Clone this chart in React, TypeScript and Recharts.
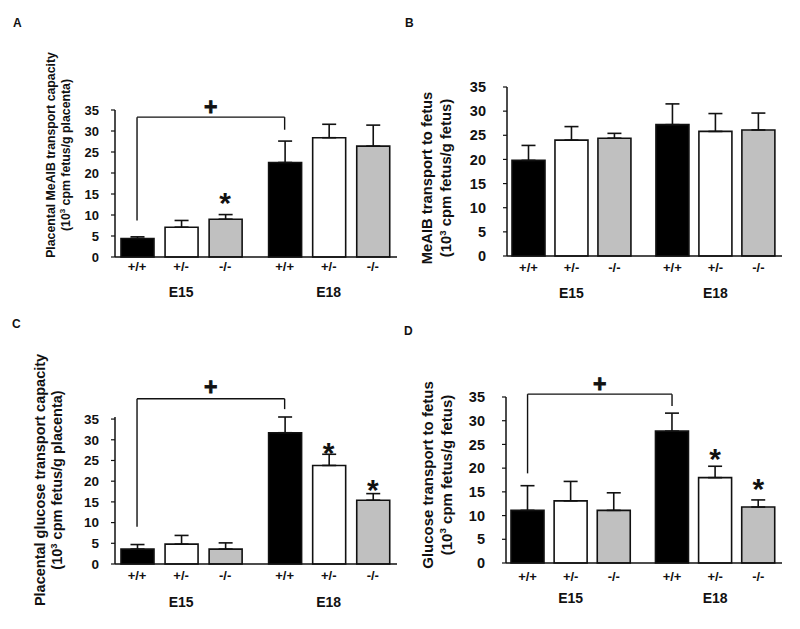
import React from "react"
import {
  BarChart,
  Bar,
  XAxis,
  YAxis,
  ErrorBar,
  Cell,
  ReferenceLine,
  ReferenceDot,
  Label,
} from "recharts"

const genotypes = ["+/+", "+/-", "-/-", "+/+", "+/-", "-/-"]
const ages = ["E15", "E18"]
const yTicks = [0, 5, 10, 15, 20, 25, 30, 35]
const barColors = ["#000000", "#ffffff", "#c0c0c0", "#000000", "#ffffff", "#c0c0c0"]

// A: placental MeAIB transport capacity
const meaibPlacentaMean = [4.4, 7.1, 9.0, 22.5, 28.4, 26.4]
const meaibPlacentaSem = [0.4, 1.6, 1.1, 5.1, 3.2, 5.0]
const meaibPlacentaStars = [null, null, 14.3, null, null, null]
const meaibPlacentaBracket = { top: 33.3, leftLow: 8.7, rightLow: 30.3, plus: 35.8 }

// B: MeAIB transport to fetus
const meaibFetusMean = [19.8, 24.0, 24.4, 27.2, 25.8, 26.1]
const meaibFetusSem = [3.1, 2.8, 1.0, 4.3, 3.7, 3.5]
const meaibFetusStars = [null, null, null, null, null, null]

// C: placental glucose transport capacity
const glucosePlacentaMean = [3.6, 4.8, 3.6, 31.7, 23.8, 15.4]
const glucosePlacentaSem = [1.1, 2.1, 1.5, 3.8, 2.7, 1.6]
const glucosePlacentaStars = [null, null, null, null, 28.3, 19.5]
const glucosePlacentaBracket = { top: 39.9, leftLow: 9.0, rightLow: 37.4, plus: 42.7 }

// D: glucose transport to fetus
const glucoseFetusMean = [11.1, 13.1, 11.1, 27.8, 18.0, 11.8]
const glucoseFetusSem = [5.2, 4.1, 3.7, 3.8, 2.4, 1.5]
const glucoseFetusStars = [null, null, null, null, 23.2, 16.9]
const glucoseFetusBracket = { top: 35.6, leftLow: 18.9, rightLow: 33.1, plus: 37.9 }

const GROUP_GAP = 0.35
const X_DOMAIN: [number, number] = [-0.5, 5.9]
const FONT = '"Liberation Sans", Arial, sans-serif'
const INK = "#111"

type Bracket = { top: number; leftLow: number; rightLow: number; plus: number }

type Layout = {
  left: number
  top: number
  width: number
  height: number
  margin: { top: number; right: number; bottom: number; left: number }
  yTickMargin: number
  yTickFont: number
  genoTop: number
  ageTop: number
  labelX: [number, number]
  labelCY: number
  labelFont: number
  letterX: number
  letterY: number
}

type PanelProps = {
  letter: string
  line1: string
  line2: string
  mean: number[]
  sem: number[]
  stars: (number | null)[]
  bracket?: Bracket
  layout: Layout
}

const starShape = (p: any) => (
  <text
    x={p.cx}
    y={p.cy}
    dy="0.55em"
    textAnchor="middle"
    fontFamily={FONT}
    fontSize={30}
    fontWeight="bold"
    fill={INK}
  >
    *
  </text>
)

const plusShape = (p: any) => (
  <text
    x={p.cx}
    y={p.cy}
    dy="0.36em"
    textAnchor="middle"
    fontFamily={FONT}
    fontSize={23}
    fontWeight="bold"
    fill={INK}
    stroke={INK}
    strokeWidth={0.8}
  >
    +
  </text>
)

function Panel({ letter, line1, line2, mean, sem, stars, bracket, layout: L }: PanelProps) {
  const positions = genotypes.map((_, i) => i + (i >= 3 ? GROUP_GAP : 0))
  const data = mean.map((m, i) => ({ x: positions[i], mean: m, sem: [0, sem[i]] }))
  const mid = bracket ? (positions[0] + positions[3]) / 2 : 0

  // genotype under each bar, age under the middle bar of each group
  const xTick = (p: any) => {
    const i = positions.indexOf(p.payload.value)
    const age = i === 1 ? ages[0] : i === 4 ? ages[1] : null
    return (
      <g fontFamily={FONT} fontWeight="bold" fill={INK} textAnchor="middle">
        <text x={p.x} y={p.y + L.genoTop} dy="0.71em" fontSize={13}>
          {genotypes[i]}
        </text>
        {age && (
          <text x={p.x} y={p.y + L.ageTop} dy="0.71em" fontSize={14}>
            {age}
          </text>
        )}
      </g>
    )
  }

  const yLabel = () => (
    <g fontFamily={FONT} fill={INK}>
      <text x={L.letterX} y={L.letterY} fontSize={12} fontWeight="bold">
        {letter}
      </text>
      <text
        x={L.labelX[0]}
        y={L.labelCY}
        transform={`rotate(-90 ${L.labelX[0]} ${L.labelCY})`}
        textAnchor="middle"
        dominantBaseline="central"
        fontSize={L.labelFont}
        fontWeight="bold"
      >
        {line1}
      </text>
      <text
        x={L.labelX[1]}
        y={L.labelCY}
        transform={`rotate(-90 ${L.labelX[1]} ${L.labelCY})`}
        textAnchor="middle"
        dominantBaseline="central"
        fontSize={L.labelFont}
        fontWeight="bold"
      >
        (10
        <tspan fontSize={L.labelFont * 0.65} dy="-0.45em">3</tspan>
        <tspan dy="0.3em">{" " + line2}</tspan>
      </text>
    </g>
  )

  return (
    <div style={{ position: "absolute", left: L.left, top: L.top }}>
      <BarChart width={L.width} height={L.height} data={data} margin={L.margin}>
        <XAxis
          type="number"
          dataKey="x"
          domain={X_DOMAIN}
          ticks={positions}
          interval={0}
          allowDataOverflow
          tickLine={false}
          tickSize={0}
          tickMargin={0}
          height={50}
          axisLine={{ stroke: INK, strokeWidth: 1.5 }}
          tick={xTick}
        />
        <YAxis
          type="number"
          domain={[0, 35]}
          ticks={yTicks}
          interval={0}
          width={35}
          tickSize={4}
          tickMargin={L.yTickMargin}
          axisLine={{ stroke: INK, strokeWidth: 1.5 }}
          tickLine={{ stroke: INK, strokeWidth: 1.2 }}
          tick={{ fill: INK, fontSize: L.yTickFont, fontFamily: FONT, fontWeight: "bold" }}
        >
          <Label content={yLabel} />
        </YAxis>
        <Bar dataKey="mean" barSize={33} stroke={INK} strokeWidth={1.6} isAnimationActive={false}>
          {data.map((_, i) => (
            <Cell key={i} fill={barColors[i]} />
          ))}
          <ErrorBar
            dataKey="sem"
            direction="y"
            width={7}
            stroke={INK}
            strokeWidth={1.6}
            isAnimationActive={false}
          />
        </Bar>
        {bracket && (
          <ReferenceLine
            ifOverflow="visible"
            stroke={INK}
            strokeWidth={1.4}
            segment={[
              { x: positions[0], y: bracket.leftLow },
              { x: positions[0], y: bracket.top },
            ]}
          />
        )}
        {bracket && (
          <ReferenceLine
            ifOverflow="visible"
            stroke={INK}
            strokeWidth={1.4}
            segment={[
              { x: positions[0], y: bracket.top },
              { x: positions[3], y: bracket.top },
            ]}
          />
        )}
        {bracket && (
          <ReferenceLine
            ifOverflow="visible"
            stroke={INK}
            strokeWidth={1.4}
            segment={[
              { x: positions[3], y: bracket.top },
              { x: positions[3], y: bracket.rightLow },
            ]}
          />
        )}
        {bracket && (
          <ReferenceDot x={mid} y={bracket.plus} r={0} ifOverflow="visible" shape={plusShape} />
        )}
        {stars.map((s, i) =>
          s == null ? null : (
            <ReferenceDot
              key={"s" + i}
              x={positions[i]}
              y={s}
              r={0}
              ifOverflow="visible"
              shape={starShape}
            />
          )
        )}
      </BarChart>
    </div>
  )
}

export default function App() {
  return (
    <div
      style={{
        position: "absolute",
        left: 0,
        top: 0,
        width: 800,
        height: 629,
        background: "#fff",
        overflow: "hidden",
      }}
    >
      <Panel
        letter="A"
        line1="Placental MeAIB transport capacity"
        line2="cpm fetus/g placenta)"
        mean={meaibPlacentaMean}
        sem={meaibPlacentaSem}
        stars={meaibPlacentaStars}
        bracket={meaibPlacentaBracket}
        layout={{
          left: 0,
          top: 0,
          width: 400,
          height: 315,
          margin: { top: 110, right: 3, bottom: 8, left: 80 },
          yTickMargin: 12,
          yTickFont: 13,
          genoTop: 5,
          ageTop: 30,
          labelX: [51, 66],
          labelCY: 155,
          labelFont: 12.3,
          letterX: 13,
          letterY: 27,
        }}
      />
      <Panel
        letter="B"
        line1="MeAIB transport to fetus"
        line2="cpm fetus/g fetus)"
        mean={meaibFetusMean}
        sem={meaibFetusSem}
        stars={meaibFetusStars}
        layout={{
          left: 400,
          top: 0,
          width: 400,
          height: 315,
          margin: { top: 87, right: 18, bottom: 9, left: 72 },
          yTickMargin: 17,
          yTickFont: 14.5,
          genoTop: 7,
          ageTop: 32,
          labelX: [27, 46],
          labelCY: 178,
          labelFont: 14.8,
          letterX: 5,
          letterY: 27,
        }}
      />
      <Panel
        letter="C"
        line1="Placental glucose transport capacity"
        line2="cpm fetus/g placenta)"
        mean={glucosePlacentaMean}
        sem={glucosePlacentaSem}
        stars={glucosePlacentaStars}
        bracket={glucosePlacentaBracket}
        layout={{
          left: 0,
          top: 300,
          width: 400,
          height: 329,
          margin: { top: 117, right: 3, bottom: 15, left: 80 },
          yTickMargin: 12,
          yTickFont: 13.5,
          genoTop: 7,
          ageTop: 33,
          labelX: [40, 57],
          labelCY: 180,
          labelFont: 14.5,
          letterX: 12,
          letterY: 28,
        }}
      />
      <Panel
        letter="D"
        line1="Glucose transport to fetus"
        line2="cpm fetus/g fetus)"
        mean={glucoseFetusMean}
        sem={glucoseFetusSem}
        stars={glucoseFetusStars}
        bracket={glucoseFetusBracket}
        layout={{
          left: 400,
          top: 300,
          width: 400,
          height: 329,
          margin: { top: 97, right: 18, bottom: 16, left: 71 },
          yTickMargin: 17,
          yTickFont: 14.5,
          genoTop: 9,
          ageTop: 30,
          labelX: [27, 46],
          labelCY: 175,
          labelFont: 15,
          letterX: 4,
          letterY: 35,
        }}
      />
    </div>
  )
}
